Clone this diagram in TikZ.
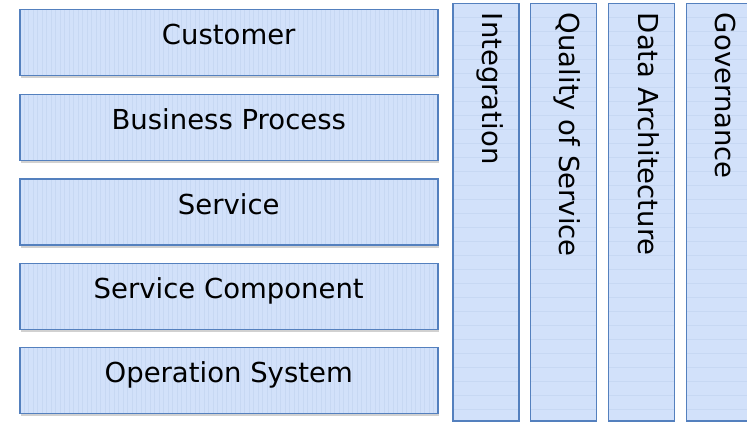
\documentclass[tikz,border=0pt]{standalone}
\usepackage{fontspec}
\setmainfont{DejaVu Sans}
\usetikzlibrary{shadows}
\definecolor{fillc}{RGB}{210,225,250}
\definecolor{stripec}{RGB}{190,208,238}
\definecolor{bordc}{RGB}{84,128,190}
\tikzset{
  x=1pt, y=-1pt,
  boxbase/.style={draw=bordc, line width=1.5pt, fill=fillc, inner sep=0pt,
    drop shadow={shadow xshift=1pt, shadow yshift=-2.5pt, fill=black, opacity=0.18}},
  layer/.style={boxbase, anchor=north west, minimum width=418pt, minimum height=66pt,
    text height=22pt, text depth=18pt, font=\fontsize{27.5}{30}\selectfont,
    path picture={\foreach \i in {0,4.5,...,420}
      {\draw[stripec, line width=0.8pt, opacity=0.5]
        ([xshift=\i pt]path picture bounding box.north west) --
        ([xshift=\i pt]path picture bounding box.south west);}}},
  column/.style={boxbase, anchor=north west, minimum width=66pt, minimum height=417pt,
    path picture={\foreach \i in {0,14,...,420}
      {\draw[stripec, line width=0.8pt, opacity=0.5]
        ([yshift=-\i pt]path picture bounding box.north west) --
        ([yshift=-\i pt]path picture bounding box.north east);}}},
  coltext/.style={anchor=base west, rotate=-90, inner sep=0pt, font=\fontsize{27.5}{30}\selectfont}
}
\begin{document}
\begin{tikzpicture}
\useasboundingbox (0,0) rectangle (747,422);
\node[layer] (cust) at (19,9) {Customer};
\node[layer] (bp) at (19,94) {Business Process};
\node[layer] (serv) at (19,178.5) {Service};
\node[layer] (sc) at (19,262.5) {Service Component};
\node[layer] (os) at (19,346.5) {Operation System};
\node[column] (c1) at (452,3) {};
\node[column] (c2) at (529.5,3) {};
\node[column] (c3) at (607.5,3) {};
\node[column] (c4) at (685.5,3) {};
\node[coltext] (t1) at (482.5,12.7) {Integration};
\node[coltext] (t2) at (559,12.7) {Quality of Service};
\node[coltext] (t3) at (638,12.7) {Data Architecture};
\node[coltext] (t4) at (715.5,12.7) {Governance};
\end{tikzpicture}
\end{document}
